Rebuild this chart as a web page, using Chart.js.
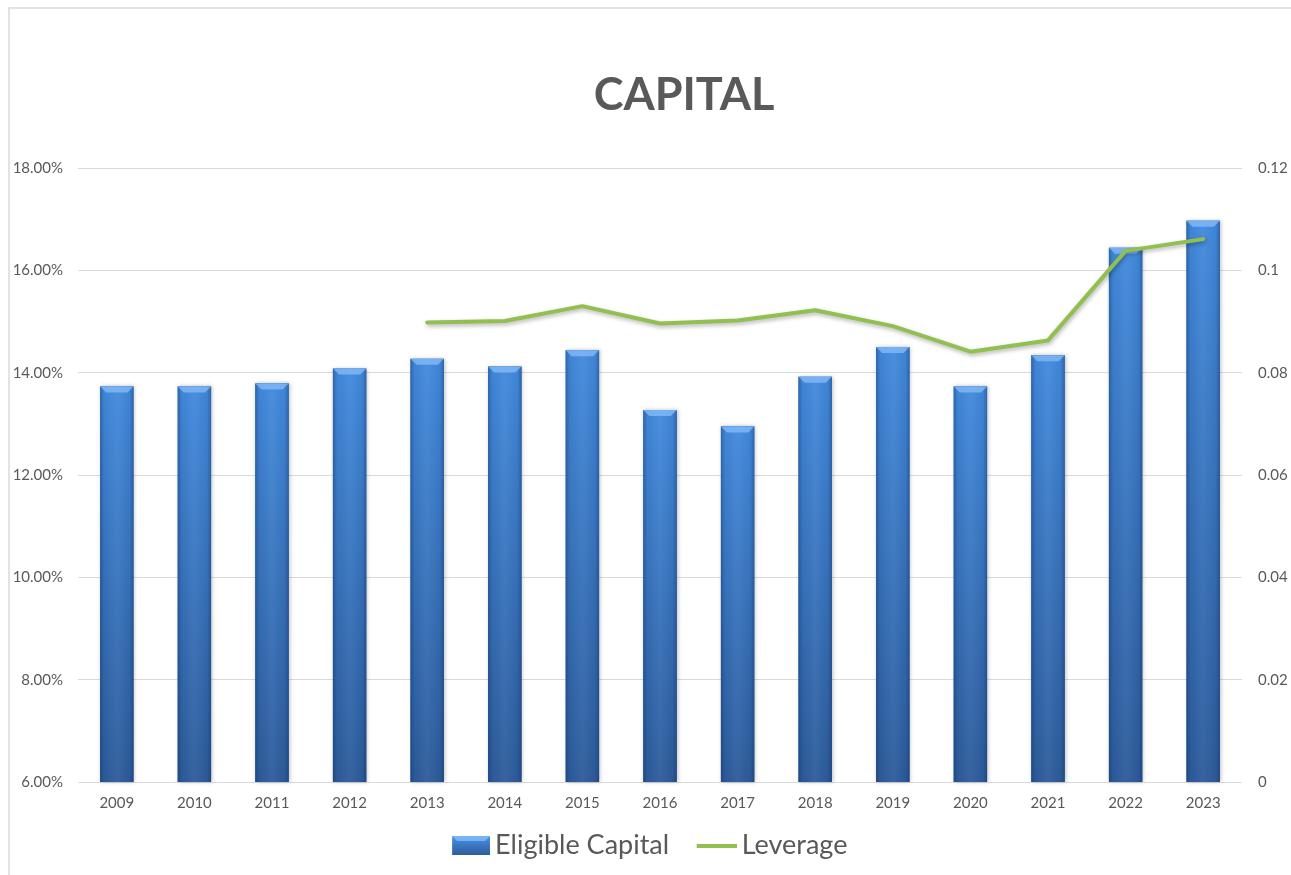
<!DOCTYPE html>
<html lang="en">
<head>
  <meta charset="UTF-8" />
  <title>Capital</title>
  <script src="https://cdn.jsdelivr.net/npm/chart.js"></script>
  <style>
    html, body { margin: 0; padding: 0; background: #fff; overflow: hidden; }
    .wrap { position: relative; width: 1291px; height: 875px; }
    .frame {
      position: absolute; left: 8px; top: 7px; right: 0; bottom: 0;
      border-top: 2px solid #e2e2e2; border-left: 2px solid #e2e2e2;
    }
    .title {
      position: absolute; left: 684px; top: 70px; transform: translateX(-50%);
      font: bold 45px/46px Lato, "Open Sans", sans-serif; color: #595959;
      white-space: nowrap;
    }
    canvas { position: absolute; left: 0; top: 0; }
  </style>
</head>
<body>
  <div class="wrap">
    <div class="frame"></div>
    <canvas id="capitalChart" width="1291" height="875"></canvas>
    <div class="title">CAPITAL</div>
  </div>

  <script>
    // chart data
    const years = ['2009', '2010', '2011', '2012', '2013', '2014', '2015', '2016',
                   '2017', '2018', '2019', '2020', '2021', '2022', '2023'];
    const eligibleCapital = [0.1373, 0.1373, 0.1379, 0.1408, 0.1427, 0.1412, 0.1444, 0.1327,
                             0.1295, 0.1392, 0.1450, 0.1373, 0.1434, 0.1644, 0.1697];
    const leverage = [null, null, null, null, 0.0898, 0.0901, 0.0930, 0.0896,
                      0.0902, 0.0922, 0.0891, 0.0841, 0.0863, 0.1038, 0.1061];
    const capitalTicks = [0.06, 0.08, 0.10, 0.12, 0.14, 0.16, 0.18];
    const leverageTicks = [0, 0.02, 0.04, 0.06, 0.08, 0.1, 0.12];

    const textGrey = '#595959';
    const lineGreen = '#91bf50';

    Chart.defaults.font.family = 'Lato, "Open Sans", sans-serif';

    // legend swatches: drawn on the right part of a wider canvas so they sit
    // close to their text like excel does
    function barSwatch() {
      const cv = document.createElement('canvas');
      cv.width = 55; cv.height = 19;
      const c = cv.getContext('2d');
      const x0 = 17, w = 38;
      let g = c.createLinearGradient(0, 0, 0, 19);
      g.addColorStop(0, '#4a92e4'); g.addColorStop(1, '#2c5c9c');
      c.fillStyle = g; c.fillRect(x0, 0, w, 19);
      c.beginPath(); c.moveTo(x0, 0); c.lineTo(x0 + w, 0); c.lineTo(x0 + w - 5, 5); c.lineTo(x0 + 5, 5); c.closePath();
      c.fillStyle = 'rgba(140,195,255,0.7)'; c.fill();
      return cv;
    }
    function lineSwatch() {
      const cv = document.createElement('canvas');
      cv.width = 55; cv.height = 4;
      const c = cv.getContext('2d');
      c.fillStyle = lineGreen; c.fillRect(15, 0, 40, 4);
      return cv;
    }
    const swatches = [barSwatch(), lineSwatch()];

    // excel-like 3d look for the bars, drawn over the library's own bar rects
    const barSkin = {
      id: 'barSkin',
      afterDatasetDraw(chart, args) {
        if (args.index !== 0) return;
        const c = chart.ctx;
        const area = chart.chartArea;
        args.meta.data.forEach(bar => {
          const {x, y, width, base} = bar.getProps(['x', 'y', 'width', 'base'], true);
          const bottom = Math.min(base, area.bottom);
          const l = x - width / 2, r = x + width / 2, h = bottom - y;
          c.save();
          c.shadowColor = 'rgba(0,0,0,0.25)';
          c.shadowBlur = 4; c.shadowOffsetX = 1; c.shadowOffsetY = 0;
          let g = c.createLinearGradient(0, y, 0, bottom);
          g.addColorStop(0, '#4189dc');
          g.addColorStop(1, '#2c5b9a');
          c.fillStyle = g;
          c.fillRect(l, y, width, h);
          c.shadowColor = 'transparent';
          g = c.createLinearGradient(l, 0, r, 0);
          g.addColorStop(0, 'rgba(15,35,80,0.35)');
          g.addColorStop(0.12, 'rgba(15,35,80,0.05)');
          g.addColorStop(0.5, 'rgba(255,255,255,0.05)');
          g.addColorStop(0.88, 'rgba(15,35,80,0.05)');
          g.addColorStop(1, 'rgba(15,35,80,0.35)');
          c.fillStyle = g;
          c.fillRect(l, y, width, h);
          c.beginPath();
          c.moveTo(l, y); c.lineTo(r, y); c.lineTo(r - 6, y + 6); c.lineTo(l + 6, y + 6);
          c.closePath();
          c.fillStyle = 'rgba(135,190,250,0.75)';
          c.fill();
          c.restore();
        });
      }
    };

    // soft shadow under the leverage line
    const lineShadow = {
      id: 'lineShadow',
      beforeDatasetDraw(chart, args) {
        if (args.index !== 1) return;
        const c = chart.ctx;
        c.save();
        c.shadowColor = 'rgba(0,0,0,0.3)';
        c.shadowBlur = 4; c.shadowOffsetX = 1; c.shadowOffsetY = 2;
      },
      afterDatasetDraw(chart, args) {
        if (args.index !== 1) return;
        chart.ctx.restore();
      }
    };

    const ctx = document.getElementById('capitalChart').getContext('2d');
    const capitalChart = new Chart(ctx, {
      data: {
        labels: years,
        datasets: [{
          type: 'bar',
          label: 'Eligible Capital',
          data: eligibleCapital,
          yAxisID: 'y',
          backgroundColor: '#3670b8',
          barPercentage: 0.43,
          categoryPercentage: 1,
          order: 1
        }, {
          type: 'line',
          label: 'Leverage',
          data: leverage,
          yAxisID: 'y1',
          borderColor: lineGreen,
          backgroundColor: lineGreen,
          borderWidth: 4,
          borderCapStyle: 'round',
          borderJoinStyle: 'round',
          pointRadius: 0,
          tension: 0,
          order: 0
        }]
      },
      options: {
        responsive: false,
        animation: false,
        events: [],
        layout: { padding: { top: 168, bottom: 6, left: 0, right: 0 } },
        scales: {
          x: {
            afterFit: s => { s.height = 29; },
            grid: { display: false, drawTicks: false },
            border: { display: false },
            ticks: { color: textGrey, font: { size: 15, lineHeight: 1 }, padding: 14 }
          },
          y: {
            position: 'left',
            min: 0.06, max: 0.18,
            afterBuildTicks: s => { s.ticks = capitalTicks.map(v => ({ value: v })); },
            afterFit: s => { s.width = 78; },
            grid: { color: '#d9d9d9', drawTicks: false },
            border: { display: false },
            ticks: {
              color: textGrey, font: { size: 15 }, padding: 15,
              callback: v => (v * 100).toFixed(2) + '%'
            }
          },
          y1: {
            position: 'right',
            min: 0, max: 0.12,
            afterBuildTicks: s => { s.ticks = leverageTicks.map(v => ({ value: v })); },
            afterFit: s => { s.width = 49; },
            grid: { display: false, drawTicks: false },
            border: { display: false },
            ticks: {
              color: textGrey, font: { size: 15 }, padding: 16,
              callback: v => String(+v.toFixed(2))
            }
          }
        },
        plugins: {
          title: { display: false },
          tooltip: { enabled: false },
          legend: {
            position: 'bottom',
            labels: {
              color: textGrey,
              font: { size: 27 },
              usePointStyle: true,
              pointStyleWidth: 38,
              boxHeight: 19,
              padding: 21,
              sort: (a, b) => a.datasetIndex - b.datasetIndex,
              generateLabels(chart) {
                const items = Chart.defaults.plugins.legend.labels.generateLabels(chart);
                items.forEach(it => { it.pointStyle = swatches[it.datasetIndex]; });
                return items;
              }
            }
          }
        }
      },
      plugins: [barSkin, lineShadow]
    });
  </script>
</body>
</html>
